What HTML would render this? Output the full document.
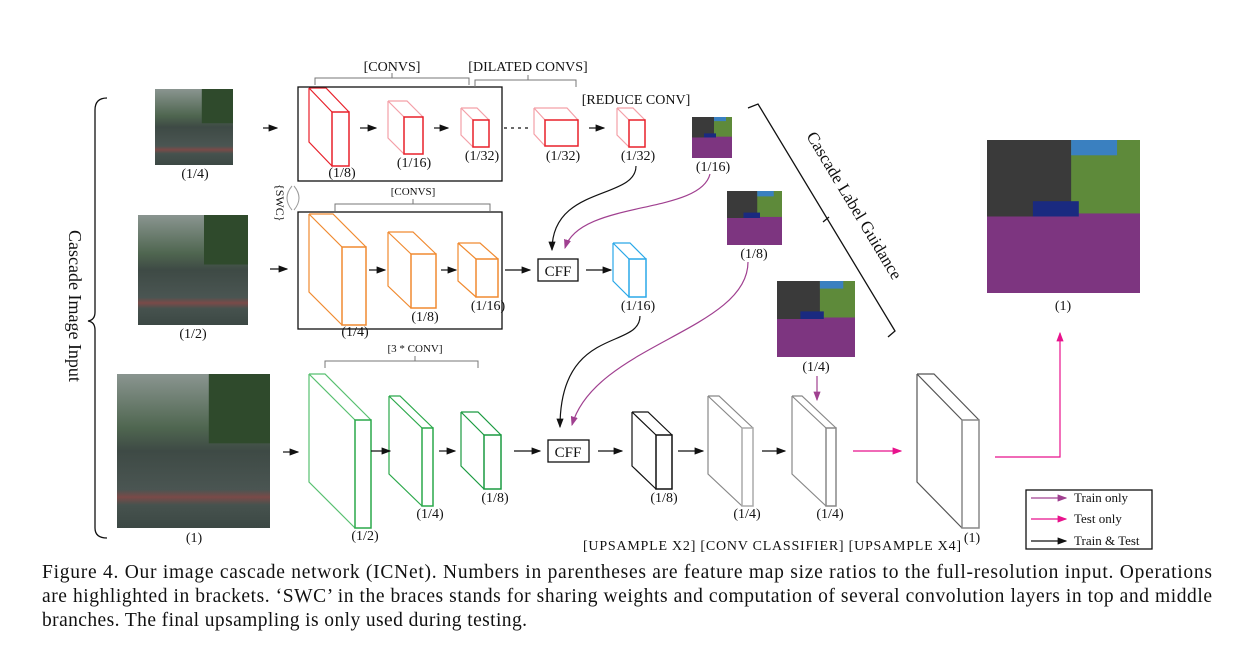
<!DOCTYPE html>
<html><head><meta charset="utf-8"><style>
body{margin:0;background:#fff}
svg{display:block;font-family:"Liberation Serif",serif}
</style></head><body>
<svg id="fig" width="1253" height="658" viewBox="0 0 1253 658" xmlns="http://www.w3.org/2000/svg">
<defs>
<marker id="ab" markerWidth="8" markerHeight="6" refX="7" refY="3" orient="auto"><path d="M0,0 L8,3 L0,6 z" fill="#111"/></marker>
<marker id="am" markerWidth="8" markerHeight="6" refX="7" refY="3" orient="auto"><path d="M0,0 L8,3 L0,6 z" fill="#a04090"/></marker>
<marker id="ap" markerWidth="8" markerHeight="6" refX="7" refY="3" orient="auto"><path d="M0,0 L8,3 L0,6 z" fill="#e8128c"/></marker>
<linearGradient id="photo" x1="0" y1="0" x2="0" y2="1"><stop offset="0" stop-color="#8a9590"/><stop offset="0.35" stop-color="#4f6650"/><stop offset="0.5" stop-color="#3e4a45"/><stop offset="0.75" stop-color="#4a5552"/><stop offset="0.8" stop-color="#7a4a48"/><stop offset="0.85" stop-color="#46524e"/><stop offset="1" stop-color="#3c4844"/></linearGradient>
</defs>
<g id="marks"></g>
<g font-size="14" fill="#111">
<text x="392" y="71" text-anchor="middle">[CONVS]</text>
<text x="528" y="71" text-anchor="middle">[DILATED CONVS]</text>
<text x="636" y="104" text-anchor="middle">[REDUCE CONV]</text>
<text x="413" y="195" font-size="11" text-anchor="middle">[CONVS]</text>
<text x="415" y="352" font-size="11" text-anchor="middle">[3 * CONV]</text>
<text x="195" y="178" text-anchor="middle">(1/4)</text>
<text x="193" y="338" text-anchor="middle">(1/2)</text>
<text x="194" y="542" text-anchor="middle">(1)</text>
<text x="342" y="177" text-anchor="middle">(1/8)</text>
<text x="414" y="167" text-anchor="middle">(1/16)</text>
<text x="482" y="160" text-anchor="middle">(1/32)</text>
<text x="563" y="160" text-anchor="middle">(1/32)</text>
<text x="638" y="160" text-anchor="middle">(1/32)</text>
<text x="713" y="171" text-anchor="middle">(1/16)</text>
<text x="355" y="336" text-anchor="middle">(1/4)</text>
<text x="425" y="321" text-anchor="middle">(1/8)</text>
<text x="488" y="310" text-anchor="middle">(1/16)</text>
<text x="638" y="310" text-anchor="middle">(1/16)</text>
<text x="754" y="258" text-anchor="middle">(1/8)</text>
<text x="816" y="371" text-anchor="middle">(1/4)</text>
<text x="365" y="540" text-anchor="middle">(1/2)</text>
<text x="430" y="518" text-anchor="middle">(1/4)</text>
<text x="495" y="502" text-anchor="middle">(1/8)</text>
<text x="664" y="502" text-anchor="middle">(1/8)</text>
<text x="747" y="518" text-anchor="middle">(1/4)</text>
<text x="830" y="518" text-anchor="middle">(1/4)</text>
<text x="972" y="542" text-anchor="middle">(1)</text>
<text x="1063" y="310" text-anchor="middle">(1)</text>
<text x="583" y="550" textLength="378">[UPSAMPLE X2] [CONV CLASSIFIER] [UPSAMPLE X4]</text>
<text x="558" y="276" font-size="15" text-anchor="middle">CFF</text>
<text x="568" y="457" font-size="15" text-anchor="middle">CFF</text>
<text x="1074" y="502" font-size="13">Train only</text>
<text x="1074" y="523" font-size="13">Test only</text>
<text x="1074" y="545" font-size="13">Train &amp; Test</text>
<text transform="translate(276,184) rotate(90)" font-size="12">{SWC}</text>
</g>
<text transform="translate(69,230) rotate(90)" font-size="18" fill="#111">Cascade Image Input</text>
<text transform="translate(806,136) rotate(59)" font-size="17" fill="#111">Cascade Label Guidance</text>
<g font-size="19.5" fill="#111">
<text x="42" y="578" textLength="1170">Figure 4. Our image cascade network (ICNet). Numbers in parentheses are feature map size ratios to the full-resolution input. Operations</text>
<text x="42" y="602" textLength="1170">are highlighted in brackets. ‘SWC’ in the braces stands for sharing weights and computation of several convolution layers in top and middle</text>
<text x="42" y="626" textLength="485">branches. The final upsampling is only used during testing.</text>
</g>
</svg>
<script>
const NS='http://www.w3.org/2000/svg';
const g=document.getElementById('marks');
function el(t,a){const e=document.createElementNS(NS,t);for(const k in a)e.setAttribute(k,a[k]);g.appendChild(e);return e;}
function cube(fx,fy,w,h,dx,dy,c,back,name){
  const bx=fx-dx,by=fy-dy;
  const p=el('path',{d:`M${bx},${by} L${fx},${fy} M${bx},${by} L${bx},${by+h} L${fx},${fy+h} M${bx},${by} L${bx+w},${by} L${fx+w},${fy}`,fill:'none',stroke:back,'stroke-width':1.2});
  
  
  const r=el('rect',{x:fx,y:fy,width:w,height:h,fill:'none',stroke:c,'stroke-width':1.5});
  
  
}
cube(332,112,17,54,23,24,'#e8202a','#e8202a','red-block-1');
cube(404,117,19,37,16,16,'#e8202a','#f4a0a8','red-block-2');
cube(473,120,16,27,12,12,'#e8202a','#f4a0a8','red-block-3');
cube(545,120,33,26,11,12,'#e8202a','#f4a0a8','red-block-4');
cube(629,120,16,27,12,12,'#e8202a','#f4a0a8','red-block-5');
cube(342,247,24,78,33,33,'#f08a30','#f08a30','orange-block-1');
cube(411,254,25,54,23,22,'#f08a30','#f08a30','orange-block-2');
cube(476,259,22,38,18,16,'#f08a30','#f08a30','orange-block-3');
cube(629,259,17,38,16,16,'#2aa8e8','#2aa8e8','blue-block');
cube(355,420,16,108,46,46,'#2aa84a','#58c070','green-block-1');
cube(422,428,11,78,33,32,'#2aa84a','#2aa84a','green-block-2');
cube(484,435,17,54,23,23,'#1a9a40','#1a9a40','green-block-3');
cube(656,435,16,54,24,23,'#111','#111','black-block');
cube(742,428,11,78,34,32,'#aaa','#888','gray-block-1');
cube(826,428,10,78,34,32,'#888','#888','gray-block-2');
cube(962,420,17,108,45,46,'#888','#555','final-block');
function line(d,stroke,mk,name,w){const p=el('path',{d:d,fill:'none',stroke:stroke,'stroke-width':w||1.2,'marker-end':mk?`url(#${mk})`:''});return p;}
const bx=[[298,87,204,94,'top-branch-box'],[298,212,204,117,'middle-branch-box'],[538,259,40,22,'cff-mid'],[548,440,41,22,'cff-bot'],[1026,490,126,59,'legend-box']];
bx.forEach(b=>{const r=el('rect',{x:b[0],y:b[1],width:b[2],height:b[3],fill:'none',stroke:'#111','stroke-width':1.3});});
[[263,128,277],[360,128,376],[434,128,448],[589,128,604],[270,269,287],[369,270,385],[441,270,456],[505,270,530],[586,270,611],[283,452,298],[371,451,390],[439,451,455],[514,451,540],[598,451,622],[678,451,703],[762,451,785]].forEach((a,i)=>line(`M${a[0]},${a[1]} L${a[2]},${a[1]}`,'#111','ab','arrow-'+i));
line('M504,128 L530,128','#111',null,'dotted-gap').setAttribute('stroke-dasharray','3,4');
line('M853,451 L901,451','#e8128c','ap','pink-arrow-1');
line('M995,457 L1060,457 L1060,333','#e8128c','ap','pink-arrow-final');
line('M636,166 C636,200 552,185 552,250','#111','ab','curve-top-to-cff');
line('M710,174 C700,215 580,200 565,248','#a04090','am','curve-seg16-to-cff');
line('M640,316 C640,350 560,325 560,427','#111','ab','curve-blue-to-cff');
line('M748,262 C748,330 595,345 572,425','#a04090','am','curve-seg8-to-cff');
line('M817,376 L817,400','#a04090','am','arrow-seg4');
line('M1031,498 L1066,498','#a04090','am','legend-train-arrow');
line('M1031,519 L1066,519','#e8128c','ap','legend-test-arrow');
line('M1031,541 L1066,541','#111','ab','legend-both-arrow');
[[315,469,78,392],[475,576,80,528],[335,490,204,413],[325,478,361,415]].forEach((b,i)=>line(`M${b[0]},${b[2]+7} L${b[0]},${b[2]} L${b[1]},${b[2]} L${b[1]},${b[2]+7} M${b[3]},${b[2]} L${b[3]},${b[2]-5}`,'#777',null,'bracket-'+i,1));
line('M107,98 Q95,98 95,110 L95,312 Q95,320 88,321 Q95,322 95,330 L95,528 Q95,538 107,538','#111',null,'input-brace',1.3);
line('M748,108 L758,104 L895,331 L888,337 M829,217 L823,222','#111',null,'guidance-brace',1.3);
line('M292,186 Q282,198 292,210 M294,186 Q304,198 294,210','#999',null,'swc-arrows',1);
[[155,89,78,76,'photo-quarter'],[138,215,110,110,'photo-half'],[117,374,153,154,'photo-full']].forEach(p=>{const r=el('rect',{x:p[0],y:p[1],width:p[2],height:p[3],fill:'url(#photo)'});
 const t=el('rect',{x:p[0]+p[2]*0.6,y:p[1],width:p[2]*0.4,height:p[3]*0.45,fill:'#2f4a2c'});});
[[692,117,40,41,'seg-sixteenth'],[727,191,55,54,'seg-eighth'],[777,281,78,76,'seg-quarter'],[987,140,153,153,'seg-full']].forEach(s=>{
 const a=el('rect',{x:s[0],y:s[1],width:s[2],height:s[3],fill:'#7d3580'});
 const b=el('rect',{x:s[0],y:s[1],width:s[2],height:s[3]*0.48,fill:'#5e8a3a'});
 const c=el('rect',{x:s[0],y:s[1],width:s[2]*0.55,height:s[3]*0.5,fill:'#3a3a3a'});
 const d=el('rect',{x:s[0]+s[2]*0.55,y:s[1],width:s[2]*0.3,height:s[3]*0.1,fill:'#3a80c0'});
 const e=el('rect',{x:s[0]+s[2]*0.3,y:s[1]+s[3]*0.4,width:s[2]*0.3,height:s[3]*0.1,fill:'#1a2a80'});
});
</script>
</body></html>
